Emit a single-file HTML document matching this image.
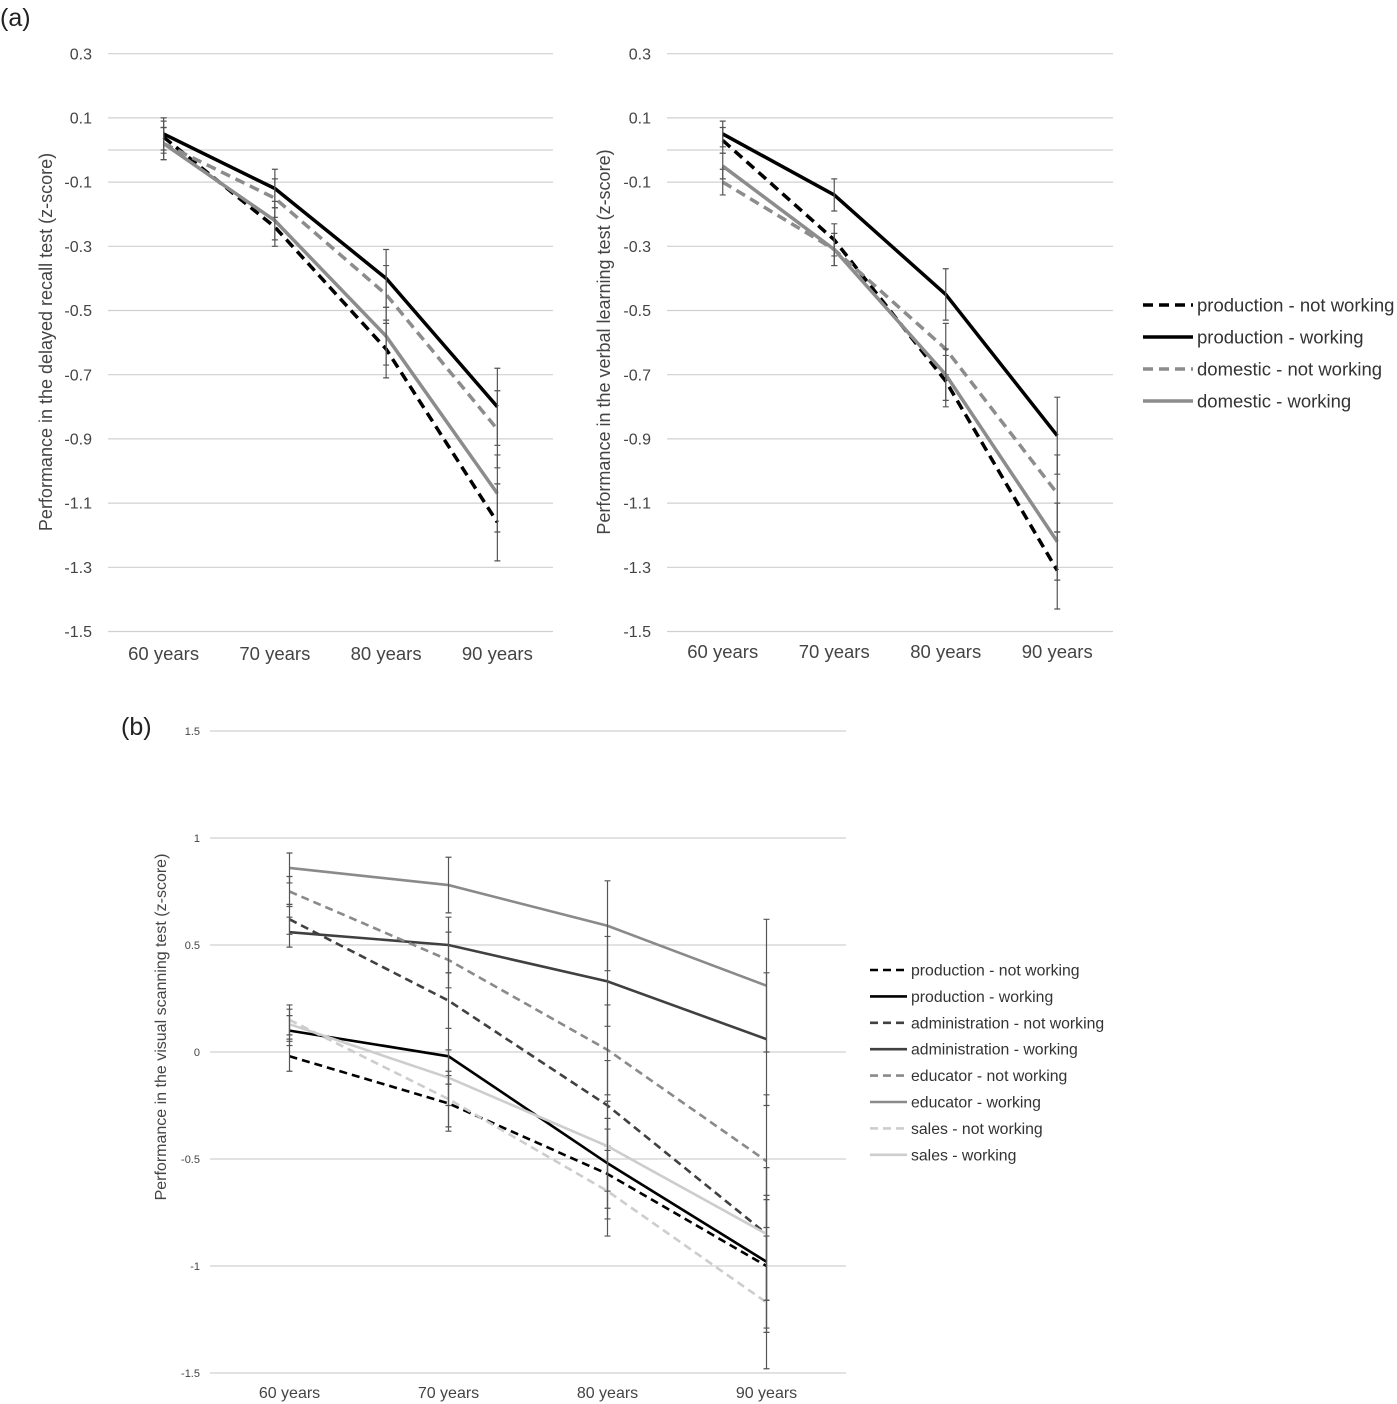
<!DOCTYPE html>
<html><head><meta charset="utf-8"><style>
body{margin:0;background:#fff;font-family:"Liberation Sans",Arial,sans-serif}
svg{display:block}
</style></head><body>
<svg id="s" width="1397" height="1404" xmlns="http://www.w3.org/2000/svg" font-family="Liberation Sans, Arial, sans-serif">
<text x="0" y="26" font-size="25" fill="#222">(a)</text>
<text x="121" y="735" font-size="25" fill="#222">(b)</text>
</svg>
<script>
const categories=["60 years","70 years","80 years","90 years"];
const c1_prodNot=[0.04,-0.24,-0.62,-1.16];
const c1_prodWork=[0.05,-0.12,-0.40,-0.80];
const c1_domNot=[0.02,-0.15,-0.45,-0.87];
const c1_domWork=[0.02,-0.22,-0.58,-1.07];
const c1_err=[0.05,0.06,0.09,0.12];
const c2_prodNot=[0.03,-0.28,-0.72,-1.31];
const c2_prodWork=[0.05,-0.14,-0.45,-0.89];
const c2_domNot=[-0.10,-0.31,-0.62,-1.07];
const c2_domWork=[-0.05,-0.31,-0.70,-1.22];
const c2_err=[0.04,0.05,0.08,0.12];
const topTicks=[0.3,0.1,-0.1,-0.3,-0.5,-0.7,-0.9,-1.1,-1.3,-1.5];
const c3_prodNot=[-0.02,-0.24,-0.57,-1.00];
const c3_prodWork=[0.10,-0.02,-0.52,-0.98];
const c3_admNot=[0.62,0.24,-0.25,-0.85];
const c3_admWork=[0.56,0.50,0.33,0.06];
const c3_eduNot=[0.75,0.43,0.01,-0.51];
const c3_eduWork=[0.86,0.78,0.59,0.31];
const c3_salNot=[0.15,-0.22,-0.65,-1.17];
const c3_salWork=[0.13,-0.12,-0.44,-0.85];
const c3_err=[0.07,0.13,0.21,0.31];
const bTicks=[1.5,1,0.5,0,-0.5,-1,-1.5];
const bTickLabels=["1.5","1","0.5","0","-0.5","-1","-1.5"];

const NS="http://www.w3.org/2000/svg";
const svg=document.getElementById('s');
function el(t,a,txt){const e=document.createElementNS(NS,t);for(const k in a)e.setAttribute(k,a[k]);if(txt!==undefined)e.textContent=txt;svg.appendChild(e);return e;}

function chart(cfg){
  const xs=i=>cfg.x0+(i+0.5)*(cfg.x1-cfg.x0)/categories.length;
  const ys=v=>cfg.yZero-v*cfg.pxPerUnit;
  cfg.ticks.forEach((t,i)=>{
    const g=el('line',{x1:cfg.x0,x2:cfg.x1,y1:ys(t),y2:ys(t),stroke:'#d0d0d0','stroke-width':1.2});
    
    
    const l=el('text',{x:cfg.x0-cfg.tickGap,y:ys(t)+cfg.tf*0.35,'font-size':cfg.tf,'text-anchor':'end',fill:'#444'},cfg.tickLabels?cfg.tickLabels[i]:t.toFixed(1));
    
    
  });
  if(cfg.zeroLine){const z=el('line',{x1:cfg.x0,x2:cfg.x1,y1:ys(0),y2:ys(0),stroke:'#d0d0d0','stroke-width':1.2});
    
    }
  categories.forEach((c,i)=>{
    const t=el('text',{x:xs(i),y:cfg.xLabelY,'font-size':cfg.xf,'text-anchor':'middle',fill:'#444'},c);
    
    
  });
  const at=el('text',{x:cfg.titleX,y:cfg.titleY,'font-size':cfg.titleF,'text-anchor':'middle',fill:'#444',transform:`rotate(-90 ${cfg.titleX} ${cfg.titleY})`},cfg.title);
  
  
  cfg.series.forEach((s,si)=>{
    const pts=s.vals.map((v,i)=>xs(i)+','+ys(v)).join(' ');
    const p=el('polyline',{points:pts,fill:'none',stroke:s.color,'stroke-width':cfg.lw,'stroke-dasharray':s.dash?cfg.dash:'none'});
    
    
    s.vals.forEach((v,i)=>{
      const e=cfg.err[i],x=xs(i);
      const b=el('path',{d:`M${x},${ys(v+e)}V${ys(v-e)}M${x-3},${ys(v+e)}H${x+3}M${x-3},${ys(v-e)}H${x+3}`,stroke:'#555','stroke-width':1.2,fill:'none'});
      
      
    });
    const ly=cfg.legY+si*cfg.legStep;
    const ll=el('line',{x1:cfg.legX,x2:cfg.legX+cfg.legLen,y1:ly,y2:ly,stroke:s.color,'stroke-width':cfg.lw,'stroke-dasharray':s.dash?cfg.dash:'none'});
    
    
    const lt=el('text',{x:cfg.legX+cfg.legLen+4,y:ly+cfg.legF*0.35,'font-size':cfg.legF,fill:'#333'},s.name);
    
    
  });
}
const k='#000',g='#8c8c8c';
chart({x0:108,x1:553,yZero:150,pxPerUnit:321,ticks:topTicks,tickGap:16,tf:16,xf:18.5,xLabelY:660,zeroLine:true,
  title:'Performance in the delayed recall test (z-score)',titleX:52,titleY:342,titleF:18,lw:3.5,dash:'10 6',err:c1_err,
  legX:9999,legY:0,legStep:0,legLen:0,legF:1,
  series:[{name:'',vals:c1_prodNot,color:k,dash:1},{name:'',vals:c1_prodWork,color:k},{name:'',vals:c1_domNot,color:g,dash:1},{name:'',vals:c1_domWork,color:g}]});
chart({x0:667,x1:1113,yZero:150,pxPerUnit:321,ticks:topTicks,tickGap:16,tf:16,xf:18.5,xLabelY:658,zeroLine:true,
  title:'Performance in the verbal learning test (z-score)',titleX:610,titleY:342,titleF:18,lw:3.5,dash:'10 6',err:c2_err,
  legX:1143,legY:305,legStep:32,legLen:50,legF:18.5,
  series:[{name:'production - not working',vals:c2_prodNot,color:k,dash:1},{name:'production - working',vals:c2_prodWork,color:k},{name:'domestic - not working',vals:c2_domNot,color:g,dash:1},{name:'domestic - working',vals:c2_domWork,color:g}]});
chart({x0:210,x1:846,yZero:1052,pxPerUnit:214,ticks:bTicks,tickLabels:bTickLabels,tickGap:10,tf:11,xf:16,xLabelY:1398,zeroLine:false,
  title:'Performance in the visual scanning test (z-score)',titleX:166,titleY:1027,titleF:16,lw:2.6,dash:'8 5',err:c3_err,
  legX:870,legY:970,legStep:26.4,legLen:37,legF:15.8,
  series:[{name:'production - not working',vals:c3_prodNot,color:'#000',dash:1},{name:'production - working',vals:c3_prodWork,color:'#000'},
  {name:'administration - not working',vals:c3_admNot,color:'#404040',dash:1},{name:'administration - working',vals:c3_admWork,color:'#404040'},
  {name:'educator - not working',vals:c3_eduNot,color:'#8a8a8a',dash:1},{name:'educator - working',vals:c3_eduWork,color:'#8a8a8a'},
  {name:'sales - not working',vals:c3_salNot,color:'#cdcdcd',dash:1},{name:'sales - working',vals:c3_salWork,color:'#cdcdcd'}]});
</script>
</body></html>
